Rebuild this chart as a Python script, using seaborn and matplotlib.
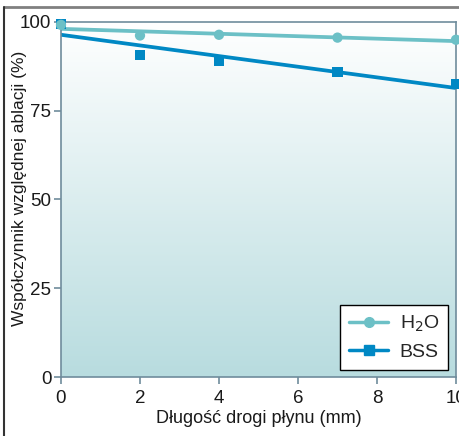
import numpy as np
import pandas as pd
import matplotlib
matplotlib.use('Agg')
import matplotlib.pyplot as plt
from matplotlib.lines import Line2D
from matplotlib.colors import LinearSegmentedColormap
import seaborn as sns

distance_mm = [0, 2, 4, 7, 10]
h2o_values = [99.2, 96.2, 96.4, 95.6, 95.0]
bss_values = [99.4, 90.7, 89.0, 85.9, 82.5]
x_ticks = [0, 2, 4, 6, 8, 10]
y_ticks = [0, 25, 50, 75, 100]

h2o_color = '#6cc0c6'
bss_color = '#0088c4'
spine_color = '#6f8c9c'

sns.set_style('white')
plt.rcParams['font.family'] = ['Liberation Sans', 'DejaVu Sans']

df = pd.DataFrame({'x': distance_mm * 2,
                   'y': h2o_values + bss_values,
                   'series': ['H2O'] * 5 + ['BSS'] * 5})

fig = plt.figure(figsize=(4.6, 4.36), dpi=100)
ax = fig.add_axes([61 / 460, 59 / 436, 395 / 460, 355 / 436])

# background gradient: white at top -> light teal at bottom
cmap = LinearSegmentedColormap.from_list('bg', ['#b8dcdf', '#ffffff'])
grad = np.linspace(0, 1, 256).reshape(-1, 1)
ax.imshow(grad, extent=[0, 10, 0, 100], origin='lower', aspect='auto', cmap=cmap, zorder=0)

# BSS first so the H2O circle sits on top at x=0
for name, color, marker in [('BSS', bss_color, 's'), ('H2O', h2o_color, 'o')]:
    sub = df[df['series'] == name]
    sns.regplot(data=sub, x='x', y='y', ax=ax, ci=None, truncate=True,
                marker=marker, color=color,
                scatter_kws={'s': 55, 'alpha': 1, 'zorder': 3, 'edgecolor': 'none', 'clip_on': False},
                line_kws={'lw': 2.7, 'zorder': 2})

ax.set_xlim(0, 10)
ax.set_ylim(0, 100)
ax.set_xticks(x_ticks)
ax.set_yticks(y_ticks)
for s in ax.spines.values():
    s.set_color(spine_color)
    s.set_linewidth(1.2)
ax.tick_params(direction='out', length=5, width=1.2, color=spine_color,
               labelsize=13.5, labelcolor='#1a1a1a', pad=2, bottom=True, left=True)
ax.tick_params(axis='x', pad=4)
ax.set_xlabel('Długość drogi płynu (mm)', fontsize=13, color='#1a1a1a')
ax.set_ylabel('Współczynnik względnej ablacji (%)', fontsize=12.5, color='#1a1a1a')
ax.xaxis.set_label_coords(0.5, -33 / 355)
ax.yaxis.set_label_coords(-34 / 395, 0.53)

handles = [Line2D([], [], color=h2o_color, marker='o', lw=2.5, ms=7),
           Line2D([], [], color=bss_color, marker='s', lw=2.5, ms=7)]
leg = ax.legend(handles, ['H$_2$O', 'BSS'], loc='lower right', fontsize=14,
                frameon=True, fancybox=False, framealpha=1, edgecolor='black',
                bbox_to_anchor=(0.98, 0.02), borderaxespad=0, handlelength=2.0,
                handletextpad=0.6, borderpad=0.45, labelspacing=0.5)
leg.get_frame().set_linewidth(1.0)

# outer frame lines of the figure
fig.add_artist(Line2D([4 / 460, 1], [1 - 7 / 436, 1 - 7 / 436], color='#808080', lw=2))
fig.add_artist(Line2D([4 / 460, 4 / 460], [0, 1 - 7 / 436], color='#333333', lw=1.5))

fig.savefig('out.png', dpi=100)
